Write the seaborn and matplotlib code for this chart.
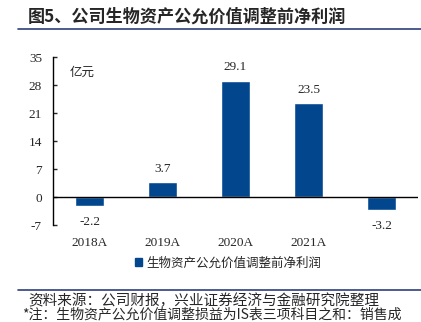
import matplotlib
matplotlib.use("Agg")
import matplotlib.pyplot as plt
import seaborn as sns
import pandas as pd
from matplotlib.lines import Line2D

categories = ["2018A", "2019A", "2020A", "2021A", " "]
values = [-2.2, 3.7, 29.1, 23.5, -3.2]
series_name = "生物资产公允价值调整前净利润"
yticks = [-7, 0, 7, 14, 21, 28, 35]
title = "图5、公司生物资产公允价值调整前净利润"
unit = "亿元"
source = "资料来源：公司财报，兴业证券经济与金融研究院整理"
note = "*注：生物资产公允价值调整损益为IS表三项科目之和：销售成"

sns.set_style("white")
plt.rcParams['font.family'] = ['Noto Sans CJK SC', 'DejaVu Sans']

df = pd.DataFrame({"cat": categories, "val": values, "s": series_name})

fig = plt.figure(figsize=(4.21, 3.22), dpi=100)
ax = fig.add_axes([53/421, 1-225/322, 365/421, 168/322])
color = "#02478E"
sns.barplot(data=df, x="cat", y="val", hue="s", palette=[color], width=0.4,
            ax=ax, legend=False, saturation=1)

ax.set_ylim(-7, 35)
ax.set_xlim(-0.5, 4.5)
ax.set_yticks(yticks)
ax.set_xlabel("")
ax.set_ylabel("")
serif = "Liberation Serif"
ax.set_yticklabels([str(t) for t in yticks], fontfamily=serif, fontsize=9.5)
ax.set_xticks(range(len(categories)))
ax.set_xticklabels(categories, fontfamily=serif, fontsize=9.5)
ax.tick_params(axis='y', direction='in', length=3, width=1, pad=8, left=True)
ax.tick_params(axis='x', length=0, pad=9)
for s in ["top", "right", "bottom"]:
    ax.spines[s].set_visible(False)
ax.spines["left"].set_linewidth(1)
ax.spines["left"].set_color("black")
ax.axhline(0, color="black", lw=1)

for i, v in enumerate(values):
    off = 9.5 if v >= 0 else -11.5
    ax.annotate(f"{v:.1f}", (i, v), xytext=(0, off), textcoords="offset points",
                ha="center", va="center", fontfamily=serif, fontsize=9.5)

ax.text(0.047, 0.91, unit, transform=ax.transAxes, fontsize=9, ha="left", va="center",
        style="italic")

fig.text(28/421, 1-17/322, title, fontsize=12.3, fontweight="bold", ha="left", va="center")
fig.add_artist(Line2D([18/421, 1], [1-29/322, 1-29/322], color="#2B3F7A", lw=1.2))
fig.add_artist(Line2D([18/421, 1], [1-290/322, 1-290/322], color="#2B3F7A", lw=1.2))

handle = plt.Rectangle((0, 0), 1, 1, color=color)
fig.legend([handle], [series_name], loc="center", bbox_to_anchor=(228/421, 1-263/322),
           frameon=False, fontsize=9, handlelength=0.6, handleheight=0.6, handletextpad=0.3)

fig.text(28/421, 1-301/322, source, fontsize=10.5, ha="left", va="center")
fig.text(22/421, 1-314.5/322, note, fontsize=10, ha="left", va="center")

fig.savefig("out.png", dpi=100)
